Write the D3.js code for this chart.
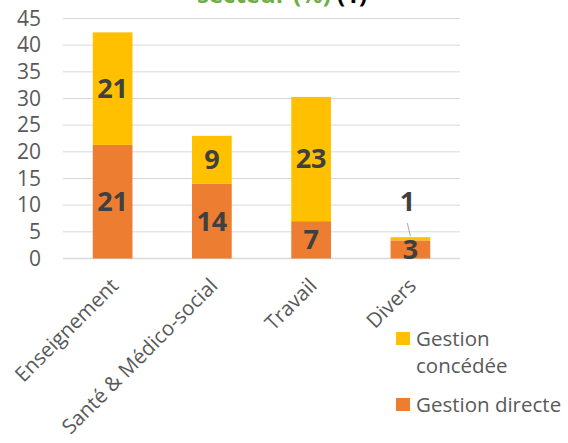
<!DOCTYPE html>
<html>
<head>
<meta charset="utf-8">
<script src="https://cdn.jsdelivr.net/npm/d3@7"></script>
<style>
  body { margin: 0; background: #fff; }
  svg { font-family: "Open Sans", sans-serif; }
</style>
</head>
<body>
<div id="chart"></div>
<script>
// Data
const categories = ["Enseignement", "Santé & Médico-social", "Travail", "Divers"];
const gestionDirecte = [21.3, 14.0, 7.0, 3.4];
const gestionConcedee = [21.1, 9.0, 23.3, 0.6];
const yTicks = [0, 5, 10, 15, 20, 25, 30, 35, 40, 45];
const seriesNames = ["Gestion concédée", "Gestion directe"];

const width = 568, height = 443;
const colorDirecte = "#ED7D31", colorConcedee = "#FFC000";

const svg = d3.select("#chart").append("svg")
    .attr("width", width)
    .attr("height", height);

// Scales
const x = d3.scaleBand()
    .domain(categories)
    .range([63, 460])
    .paddingInner(0.6)
    .paddingOuter(0.3);

const y = d3.scaleLinear()
    .domain([0, 45])
    .range([258.5, 18.5]);

// Title (cut off at the top, like the original)
const title = svg.append("text")
    .attr("x", 282)
    .attr("y", 3)
    .attr("text-anchor", "middle")
    .style("font-size", "24px")
    .style("font-weight", "bold");
title.append("tspan").attr("fill", "#70AD47").text("secteur (%) ");
title.append("tspan").attr("fill", "#000").text("(1)");

// Gridlines
svg.append("g")
    .selectAll("line")
    .data(yTicks)
    .join("line")
    .attr("x1", 63)
    .attr("x2", 460)
    .attr("y1", d => y(d))
    .attr("y2", d => y(d))
    .attr("stroke", "#D9D9D9")
    .attr("stroke-width", d => d === 0 ? 1.5 : 1);

// Y axis labels
const yAxis = svg.append("g")
    .attr("transform", "translate(50,0)")
    .call(d3.axisLeft(y).tickValues(yTicks).tickSize(0).tickPadding(9));
yAxis.select(".domain").remove();
yAxis.selectAll("text")
    .attr("fill", "#595959")
    .style("font-size", "21px")
    .style("font-family", "'Open Sans', sans-serif");

// Stacked bars
const rows = categories.map((c, i) => ({ cat: c, directe: gestionDirecte[i], concedee: gestionConcedee[i] }));
const stack = d3.stack().keys(["directe", "concedee"]);
const layers = stack(rows);
const colors = { directe: colorDirecte, concedee: colorConcedee };

svg.append("g")
    .selectAll("g")
    .data(layers)
    .join("g")
    .attr("fill", d => colors[d.key])
    .selectAll("rect")
    .data(d => d)
    .join("rect")
    .attr("x", d => x(d.data.cat))
    .attr("width", x.bandwidth())
    .attr("y", d => y(d[1]))
    .attr("height", d => y(d[0]) - y(d[1]));

// Value labels
const labelG = svg.append("g")
    .style("font-size", "27px")
    .style("font-weight", "bold")
    .attr("fill", "#404040")
    .attr("text-anchor", "middle");

layers.forEach(layer => {
    layer.forEach(d => {
        const cx = x(d.data.cat) + x.bandwidth() / 2;
        const segH = y(d[0]) - y(d[1]);
        const val = Math.round(d[1] - d[0]);
        if (layer.key === "concedee" && segH < 10) {
            // small segment: label above with leader line
            labelG.append("text")
                .attr("x", cx - 3)
                .attr("y", y(d[1]) - 36)
                .attr("dy", "0.35em")
                .text(val);
            svg.append("line")
                .attr("x1", cx - 3)
                .attr("y1", y(d[1]) - 14)
                .attr("x2", cx)
                .attr("y2", y(d[1]) - 1)
                .attr("stroke", "#A6A6A6")
                .attr("stroke-width", 1);
        } else {
            labelG.append("text")
                .attr("x", cx)
                .attr("y", (y(d[0]) + y(d[1])) / 2)
                .attr("dy", "0.35em")
                .text(val);
        }
    });
});

// Category labels
svg.append("g")
    .selectAll("text")
    .data(categories)
    .join("text")
    .attr("transform", d => `translate(${x(d) + x.bandwidth() / 2 + 7},${287}) rotate(-45)`)
    .attr("text-anchor", "end")
    .attr("fill", "#595959")
    .style("font-size", "20.5px")
    .text(d => d);

// Legend
const legend = svg.append("g");
const legendItems = [
    { color: colorConcedee, lines: ["Gestion", "concédée"], y: 332 },
    { color: colorDirecte, lines: ["Gestion directe"], y: 398 }
];
legendItems.forEach(item => {
    legend.append("rect")
        .attr("x", 396)
        .attr("y", item.y)
        .attr("width", 14)
        .attr("height", 13)
        .attr("fill", item.color);
    item.lines.forEach((t, j) => {
        legend.append("text")
            .attr("x", 416)
            .attr("y", item.y + 14 + j * 27)
            .attr("fill", "#595959")
            .style("font-size", "20.5px")
            .text(t);
    });
});
</script>
</body>
</html>
